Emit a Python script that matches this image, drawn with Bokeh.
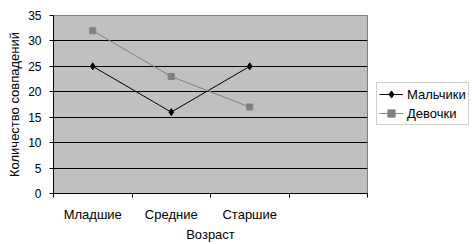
from bokeh.plotting import figure
from bokeh.models import (Range1d, FixedTicker, Legend, LegendItem, ColumnDataSource)
from bokeh.embed import file_html
from bokeh.resources import INLINE

categories = ["Младшие", "Средние", "Старшие"]
boys = [25, 16, 25]
girls = [32, 23, 17]
y_ticks = [0, 5, 10, 15, 20, 25, 30, 35]
n_slots = 4

FONT = "Liberation Sans"

xpos = [i + 0.5 for i in range(len(categories))]
src = ColumnDataSource(dict(x=xpos, boys=boys, girls=girls))

p = figure(frame_width=314, frame_height=178, output_backend="svg", toolbar_location=None,
           x_range=Range1d(0, n_slots), y_range=Range1d(0, 35),
           min_border_left=53, min_border_right=105, min_border_top=15, min_border_bottom=10)

p.border_fill_color = "white"
p.outline_line_color = "#808080"
p.background_fill_color = "#C0C0C0"

lb = p.line("x", "boys", source=src, line_color="black", line_width=1)
mb = p.scatter("x", "boys", source=src, marker="diamond", size=7, color="black")
lg = p.line("x", "girls", source=src, line_color="#808080", line_width=1)
mg = p.scatter("x", "girls", source=src, marker="square", size=6, color="#808080")

for ax in (p.xaxis, p.yaxis):
    ax.axis_label_text_font = FONT
    ax.axis_label_text_font_size = "13px"
    ax.axis_label_text_font_style = "normal"
    ax.axis_label_text_color = "black"
    ax.major_label_text_font = FONT
    ax.major_label_text_font_size = "13px"
    ax.major_label_text_color = "black"
    ax.axis_line_color = "black"

p.yaxis.ticker = FixedTicker(ticks=y_ticks)
p.yaxis.axis_label = "Количество совпадений"
p.yaxis.axis_label_standoff = 3
p.yaxis.major_label_text_font_size = "12px"
p.yaxis.major_label_standoff = 8
p.yaxis.major_tick_out = 4
p.yaxis.major_tick_in = 0
p.yaxis.minor_tick_out = 0
p.yaxis.minor_tick_in = 0
p.yaxis.major_tick_line_color = "black"

p.xaxis.ticker = FixedTicker(ticks=xpos, minor_ticks=list(range(n_slots + 1)))
p.xaxis.major_label_overrides = {x: c for x, c in zip(xpos, categories)}
p.xaxis.axis_label = "Возраст"
p.xaxis.axis_label_standoff = 2
p.xaxis.major_label_standoff = 9
p.xaxis.major_tick_out = 0
p.xaxis.major_tick_in = 0
p.xaxis.minor_tick_out = 4
p.xaxis.minor_tick_in = 0
p.xaxis.minor_tick_line_color = "black"

p.xgrid.visible = False
p.ygrid.ticker = FixedTicker(ticks=y_ticks)
p.ygrid.grid_line_color = "black"
p.ygrid.grid_line_width = 1

legend = Legend(items=[LegendItem(label="Мальчики", renderers=[lb, mb]),
                       LegendItem(label="Девочки", renderers=[lg, mg])],
                location=(9, 68), orientation="vertical",
                label_text_font=FONT, label_text_font_size="13px", label_text_color="black",
                glyph_width=24, glyph_height=18, label_height=18,
                label_standoff=4, spacing=1, padding=2, margin=0,
                border_line_color="#a0a0a0", border_line_width=1,
                background_fill_color="white", background_fill_alpha=1)
p.add_layout(legend, "right")

open("out.html", "w").write(file_html(p, INLINE))
